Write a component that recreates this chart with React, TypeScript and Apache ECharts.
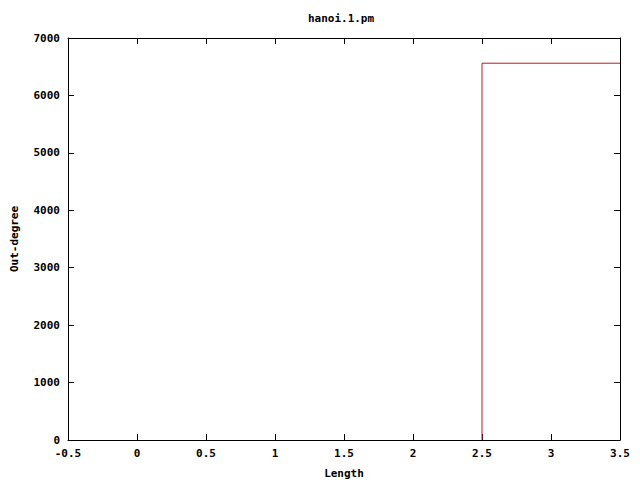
import React, { useEffect, useRef } from "react";
import * as echarts from "echarts";

const lengths: number[] = [2.5, 3.5];
const outDegree: number[] = [0, 6561];
const titleText = "hanoi.1.pm";
const xName = "Length";
const yName = "Out-degree";

const FONT = "'DejaVu Sans Mono', 'Liberation Mono', monospace";

export default function App() {
  const ref = useRef<HTMLDivElement>(null);
  useEffect(() => {
    document.body.style.margin = "0";
    const chart = echarts.init(ref.current!, null, { renderer: "svg" });
    const textStyle = { fontFamily: FONT, fontWeight: "bold" as const, fontSize: 11, color: "#000" };
    const axisLine = { show: true, onZero: false, lineStyle: { color: "#000", width: 1 } };
    const tick = { show: true, inside: true, length: 6, lineStyle: { color: "#000" } };
    const fmt = (v: number) => String(v);
    chart.setOption({
      animation: false,
      backgroundColor: "#fff",
      title: {
        text: titleText,
        left: 341,
        textAlign: "center",
        top: 13,
        padding: 0,
        textStyle: { ...textStyle, fontSize: 11 },
      },
      grid: {
        left: 68,
        right: 20,
        top: 38,
        bottom: 40,
        show: false,
        containLabel: false,
        outerBoundsMode: "none",
      },
      xAxis: [
        {
          type: "value",
          position: "bottom",
          min: -0.5,
          max: 3.5,
          interval: 0.5,
          name: xName,
          nameLocation: "middle",
          nameGap: 28,
          nameTextStyle: textStyle,
          axisLine,
          axisTick: tick,
          axisLabel: { ...textStyle, margin: 8, formatter: fmt },
          splitLine: { show: false },
        },
        {
          type: "value",
          position: "top",
          min: -0.5,
          max: 3.5,
          interval: 0.5,
          axisLine,
          axisTick: tick,
          axisLabel: { show: false },
          splitLine: { show: false },
        },
      ],
      yAxis: [
        {
          type: "value",
          position: "left",
          min: 0,
          max: 7000,
          interval: 1000,
          name: yName,
          nameLocation: "middle",
          nameGap: 48,
          nameTextStyle: textStyle,
          axisLine,
          axisTick: tick,
          axisLabel: { ...textStyle, margin: 8, formatter: fmt },
          splitLine: { show: false },
        },
        {
          type: "value",
          position: "right",
          min: 0,
          max: 7000,
          interval: 1000,
          axisLine,
          axisTick: tick,
          axisLabel: { show: false },
          splitLine: { show: false },
        },
      ],
      series: [
        {
          type: "line",
          step: "start",
          data: lengths.map((x, i) => [x, outDegree[i]]),
          showSymbol: false,
          lineStyle: { color: "#b81a22", width: 1 },
          clip: true,
        },
      ],
    });
    return () => chart.dispose();
  }, []);
  return (
    <div
      ref={ref}
      style={{ position: "absolute", left: 0, top: 0, width: 640, height: 480 }}
    />
  );
}
